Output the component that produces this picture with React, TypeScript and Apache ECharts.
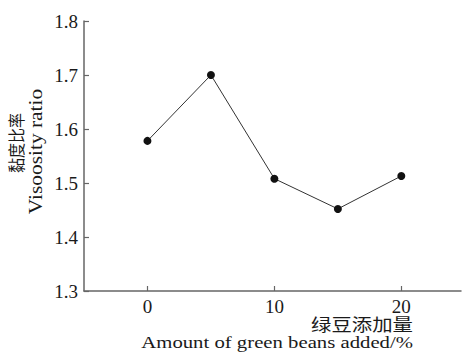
import React, { useEffect, useRef } from "react";
import * as echarts from "echarts";

const amounts = [0, 5, 10, 15, 20];
const viscosityRatio = [1.578, 1.7, 1.508, 1.452, 1.513];
const xTickValues = [0, 10, 20];
const yTicks = { min: 1.3, max: 1.8, interval: 0.1 };
const xTitleCn = "绿豆添加量";
const xTitleEn = "Amount of green beans added/%";
const yTitleCn = "黏度比率";
const yTitleEn = "Visoosity ratio";

export default function App() {
  const ref = useRef<HTMLDivElement>(null);
  useEffect(() => {
    if (!ref.current) return;
    const chart = echarts.init(ref.current, undefined, { renderer: "svg" });
    const axisColor = "#666";
    const textColor = "#1a1a1a";
    const serif = "'Liberation Serif', 'Times New Roman', serif";
    chart.setOption({
      animation: false,
      backgroundColor: "#fff",
      textStyle: { fontFamily: serif },
      grid: { left: 84, right: 2, top: 21, bottom: 63 },
      xAxis: {
        type: "value",
        min: -5,
        max: 24.7,
        axisLine: { show: true, onZero: false, lineStyle: { color: axisColor, width: 1.5 } },
        axisTick: { show: true, inside: true, length: 5, customValues: xTickValues, lineStyle: { color: axisColor, width: 1.2 } },
        axisLabel: {
          customValues: xTickValues,
          margin: 6,
          fontFamily: serif,
          fontSize: 19,
          color: textColor,
        },
        splitLine: { show: false },
      },
      yAxis: {
        type: "value",
        min: yTicks.min,
        max: yTicks.max,
        interval: yTicks.interval,
        axisLine: { show: true, onZero: false, lineStyle: { color: axisColor, width: 1.5 } },
        axisTick: { show: true, inside: true, length: 5, lineStyle: { color: axisColor, width: 1.2 } },
        axisLabel: {
          margin: 6,
          fontFamily: serif,
          fontSize: 19,
          color: textColor,
          formatter: (v: number) => v.toFixed(1),
        },
        splitLine: { show: false },
      },
      graphic: [
        {
          type: "text",
          x: 413,
          y: 323,
          scaleX: 1.2,
          style: { text: xTitleCn, font: '17px "Noto Sans CJK SC"', fill: textColor, align: "right", verticalAlign: "middle" },
        },
        {
          type: "text",
          x: 413,
          y: 342,
          scaleX: 1.22,
          style: { text: xTitleEn, font: `17px ${serif}`, fill: textColor, align: "right", verticalAlign: "middle" },
        },
        {
          type: "text",
          x: 16.5,
          y: 143,
          rotation: Math.PI / 2,
          scaleY: 1.1,
          style: { text: yTitleCn, font: '15px "Noto Sans CJK SC"', fill: textColor, align: "center", verticalAlign: "middle" },
        },
        {
          type: "text",
          x: 36,
          y: 151.5,
          rotation: Math.PI / 2,
          scaleX: 1.19,
          style: { text: yTitleEn, font: `18px ${serif}`, fill: textColor, align: "center", verticalAlign: "middle" },
        },
      ],
      series: [
        {
          type: "line",
          data: amounts.map((a, i) => [a, viscosityRatio[i]]),
          symbol: "circle",
          symbolSize: 8,
          itemStyle: { color: "#111" },
          lineStyle: { color: "#333", width: 1 },
        },
      ],
    });
    return () => chart.dispose();
  }, []);
  return <div ref={ref} style={{ width: 463, height: 354, position: "absolute", left: 0, top: 0 }} />;
}
